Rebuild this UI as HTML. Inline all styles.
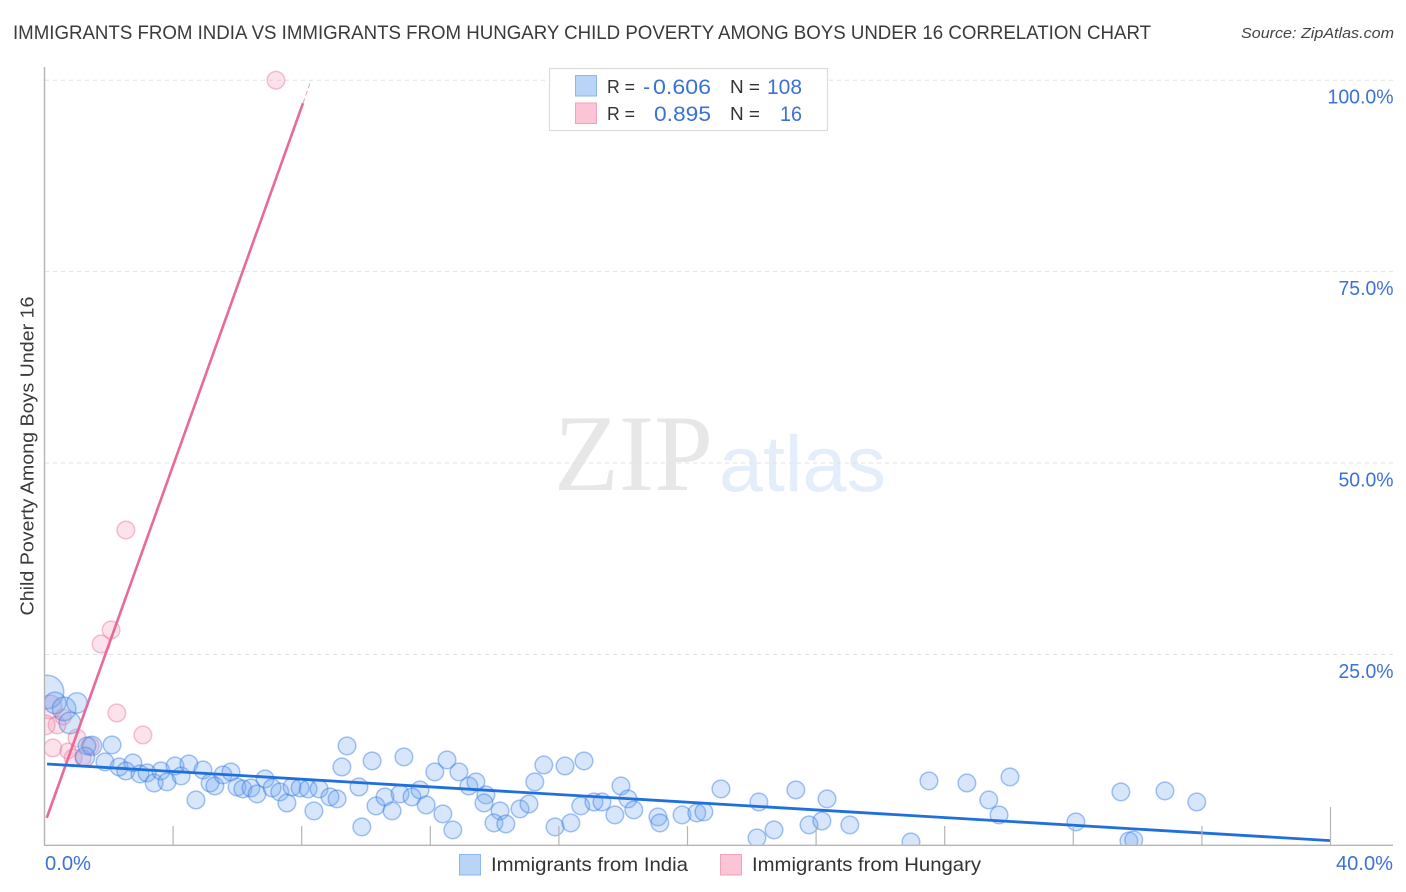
<!DOCTYPE html>
<html lang="en">
<head>
<meta charset="utf-8">
<title>Immigrants from India vs Immigrants from Hungary Child Poverty Among Boys Under 16 Correlation Chart</title>
<style>
html,body{margin:0;padding:0;background:#fff;}
svg{display:block;font-family:"Liberation Sans",sans-serif;}
</style>
</head>
<body>
<svg id="chart" xmlns="http://www.w3.org/2000/svg" width="1406" height="892" viewBox="0 0 1406 892">
  <defs>
    <clipPath id="plot-clip"><rect x="45" y="60" width="1349" height="784.5"/></clipPath>
  </defs>

  <text x="13" y="39" font-size="19.5" fill="#3a3a3a" textLength="1138" lengthAdjust="spacingAndGlyphs">IMMIGRANTS FROM INDIA VS IMMIGRANTS FROM HUNGARY CHILD POVERTY AMONG BOYS UNDER 16 CORRELATION CHART</text>
  <text x="1241" y="38" font-size="15" font-style="italic" fill="#444" textLength="153" lengthAdjust="spacingAndGlyphs">Source: ZipAtlas.com</text>

  <g>
    <text x="554" y="490" font-family="'Liberation Serif',serif" font-size="109" fill="#e7e7e7" textLength="159" lengthAdjust="spacingAndGlyphs">ZIP</text>
    <text x="719" y="491" font-size="79" fill="#e4edfa" textLength="167" lengthAdjust="spacingAndGlyphs">atlas</text>
  </g>

  <g id="grid"></g>
  <g id="points" clip-path="url(#plot-clip)"></g>
  <g id="trends"></g>
  <g id="axes"></g>

  <text transform="translate(33.5,615.5) rotate(-90)" font-size="18" fill="#3a3a3a" textLength="319" lengthAdjust="spacingAndGlyphs">Child Poverty Among Boys Under 16</text>

  <g>
    <rect x="549.5" y="68.5" width="278" height="62" fill="#fff" fill-opacity="0.9" stroke="#dcdcdc" stroke-width="1.2"/>
    <rect x="575.5" y="75.5" width="21" height="20.5" fill="#b9d4f7" stroke="#8db6ec" stroke-width="1"/>
    <rect x="575.5" y="103" width="21" height="20.5" fill="#fcc5d6" stroke="#f0a3bc" stroke-width="1"/>
    <text x="607" y="93" font-size="18" fill="#333" textLength="28" lengthAdjust="spacingAndGlyphs">R =</text>
    <text font-size="21.5" fill="#3b72d6" y="94"><tspan x="643">-</tspan><tspan x="653" textLength="58" lengthAdjust="spacingAndGlyphs">0.606</tspan></text>
    <text x="730" y="93" font-size="18" fill="#333" textLength="30" lengthAdjust="spacingAndGlyphs">N =</text>
    <text x="767" y="94" font-size="21.5" fill="#3b72d6" textLength="35" lengthAdjust="spacingAndGlyphs">108</text>
    <text x="607" y="120" font-size="18" fill="#333" textLength="28" lengthAdjust="spacingAndGlyphs">R =</text>
    <text x="654" y="121" font-size="21.5" fill="#3b72d6" textLength="57" lengthAdjust="spacingAndGlyphs">0.895</text>
    <text x="730" y="120" font-size="18" fill="#333" textLength="30" lengthAdjust="spacingAndGlyphs">N =</text>
    <text x="780" y="121" font-size="21.5" fill="#3b72d6" textLength="22" lengthAdjust="spacingAndGlyphs">16</text>
  </g>

  <g>
    <rect x="459.5" y="854.5" width="21" height="20.5" fill="#b9d4f7" stroke="#8db6ec" stroke-width="1"/>
    <text x="491" y="871" font-size="19.5" fill="#333" textLength="197" lengthAdjust="spacingAndGlyphs">Immigrants from India</text>
  </g>
  <g>
    <rect x="720.5" y="854.5" width="21" height="20.5" fill="#fcc5d6" stroke="#f0a3bc" stroke-width="1"/>
    <text x="752" y="871" font-size="19.5" fill="#333" textLength="229" lengthAdjust="spacingAndGlyphs">Immigrants from Hungary</text>
  </g>
</svg>

<script>
const indiaX = [0.08,0.33,0.61,1.01,0.79,2.10,1.48,1.32,1.26,1.88,2.32,2.75,2.53,2.97,3.19,3.41,3.62,3.81,4.06,4.25,4.49,4.71,4.93,5.15,5.30,5.55,5.80,5.99,6.17,6.42,6.61,6.86,7.08,7.32,7.54,7.70,7.95,8.20,8.38,8.54,8.88,9.10,9.41,9.25,9.78,9.87,10.19,11.18,10.31,10.59,10.81,11.06,11.43,11.68,11.87,12.39,12.70,12.14,12.52,12.89,13.20,13.42,13.73,13.67,14.17,13.98,14.35,14.79,15.07,15.25,15.53,16.19,16.78,15.88,16.37,16.68,17.09,17.34,17.74,17.93,18.15,18.33,19.08,19.14,19.83,20.29,20.51,21.04,22.22,22.16,22.69,23.37,23.78,24.18,24.34,25.05,26.95,27.51,28.69,29.37,29.69,30.03,32.08,33.48,34.85,35.84,33.73,33.88];
const indiaY = [20.1,18.67,17.89,18.67,16.06,13.19,13.06,13.06,11.62,10.97,10.31,10.84,9.79,9.40,9.53,8.22,9.79,8.36,10.44,9.14,10.71,6.0,9.92,8.22,7.83,9.27,9.66,7.70,7.44,7.57,6.79,8.75,7.57,7.05,5.61,7.70,7.57,7.44,4.57,7.44,6.40,6.14,13.06,10.31,7.70,2.48,11.10,11.62,5.22,6.40,4.57,6.79,6.40,7.31,5.35,4.18,2.09,9.66,11.23,9.66,7.83,8.36,6.66,5.61,4.57,3.0,2.87,4.83,5.48,8.36,10.57,10.44,11.10,2.48,3.0,5.22,5.74,5.74,4.05,7.83,6.14,4.70,3.79,3.0,4.05,4.31,4.44,7.44,5.74,1.04,2.09,7.31,2.74,3.26,6.14,2.74,0.52,8.49,8.22,6.0,4.05,9.01,3.13,7.05,7.18,5.74,0.65,0.78];
const indiaWeights = [3.6,1.5,1.8,1.35,1.5,1,1.2,1,1.2];
const hungaryX = [7.20,2.53,2.07,1.76,2.25,3.06,0.17,0.39,0.02,0.58,0.26,0.73,1.01,1.42,0.89,1.20];
const hungaryY = [100,41.25,28.2,26.37,17.36,14.49,18.15,15.8,15.8,16.84,12.79,12.4,14.1,13.06,11.49,11.49];
const hungaryWeights = [1,1,1,1,1,1,1.8,1,1.25,0.8,1,0.8,1,1,1,0.8];
const indiaTrendX = [0.08,40];
const indiaTrendY = [10.7,0.69];
const hungaryTrendX = [0.07,8.04];
const hungaryTrendY = [3.66,97.0];
const hungaryDashX = [8.04,8.29];
const hungaryDashY = [97.0,100];
const yTicks = [25,50,75,100];
const yTickLabels = ['25.0%','50.0%','75.0%','100.0%'];
const xTicks = [4,8,12,16,20,24,28,32,36,40];

const NS = 'http://www.w3.org/2000/svg';
const xScale = v => 44.5 + v * 32.15;
const yScale = v => 845.9 - v * 7.657;
const BASE_R = 8.8;

function make(tag, attrs, parent) {
  const el = document.createElementNS(NS, tag);
  for (const k in attrs) el.setAttribute(k, attrs[k]);
  parent.appendChild(el);
  return el;
}

const grid = document.getElementById('grid');
const axes = document.getElementById('axes');
const points = document.getElementById('points');
const trends = document.getElementById('trends');

yTicks.forEach((t, i) => {
  const line = make('line', {x1: 45, x2: 1393, y1: yScale(t), y2: yScale(t), stroke: '#e2e2e2', 'stroke-width': 1, 'stroke-dasharray': '4 4'}, grid);
  
  
  const label = make('text', {x: 1393.5, y: yScale(t) + 23.5, 'font-size': 20, fill: '#3b72d6', 'text-anchor': 'end', textLength: yTickLabels[i].length * 11 , lengthAdjust: 'spacingAndGlyphs'}, axes);
  label.textContent = yTickLabels[i];
  
  
});

const yAxis = make('line', {x1: 44.5, x2: 44.5, y1: 67, y2: 845.5, stroke: '#b5b5b5', 'stroke-width': 1.4}, axes);


const xAxis = make('line', {x1: 44, x2: 1393, y1: 845.3, y2: 845.3, stroke: '#b5b5b5', 'stroke-width': 1.4}, axes);



xTicks.forEach((t, i) => {
  const last = i === xTicks.length - 1;
  const tick = make('line', {x1: xScale(t), x2: xScale(t), y1: last ? 807 : 826, y2: 845, stroke: '#b5b5b5', 'stroke-width': 1.2}, axes);
  
  
});

const xLabelStart = make('text', {x: 45, y: 870, 'font-size': 20, fill: '#3b72d6', textLength: 46, lengthAdjust: 'spacingAndGlyphs'}, axes);
xLabelStart.textContent = '0.0%';


const xLabelEnd = make('text', {x: 1336, y: 870, 'font-size': 20, fill: '#3b72d6', textLength: 57, lengthAdjust: 'spacingAndGlyphs'}, axes);
xLabelEnd.textContent = '40.0%';



hungaryX.forEach((v, i) => {
  const c = make('circle', {cx: xScale(v), cy: yScale(hungaryY[i]), r: BASE_R * Math.sqrt(hungaryWeights[i] || 1), fill: 'rgba(246,150,180,0.28)', stroke: 'rgba(232,120,160,0.45)', 'stroke-width': 1.5}, points);
  
  
});
indiaX.forEach((v, i) => {
  const c = make('circle', {cx: xScale(v), cy: yScale(indiaY[i]), r: BASE_R * Math.sqrt(indiaWeights[i] || 1), fill: 'rgba(110,165,240,0.28)', stroke: 'rgba(55,125,228,0.45)', 'stroke-width': 1.5}, points);
  
  
});

const linePts = (xs, ys) => xs.map((v, i) => xScale(v) + ',' + yScale(ys[i])).join(' ');
const hungaryLine = make('polyline', {points: linePts(hungaryTrendX, hungaryTrendY), fill: 'none', stroke: '#e8699a', 'stroke-width': 2.6}, trends);


const hungaryDash = make('polyline', {points: linePts(hungaryDashX, hungaryDashY), fill: 'none', stroke: '#e8a3bf', 'stroke-width': 1, 'stroke-dasharray': '5 3'}, trends);


const indiaLine = make('polyline', {points: linePts(indiaTrendX, indiaTrendY), fill: 'none', stroke: '#1f6fdc', 'stroke-width': 2.8}, trends);


</script>
</body>
</html>
